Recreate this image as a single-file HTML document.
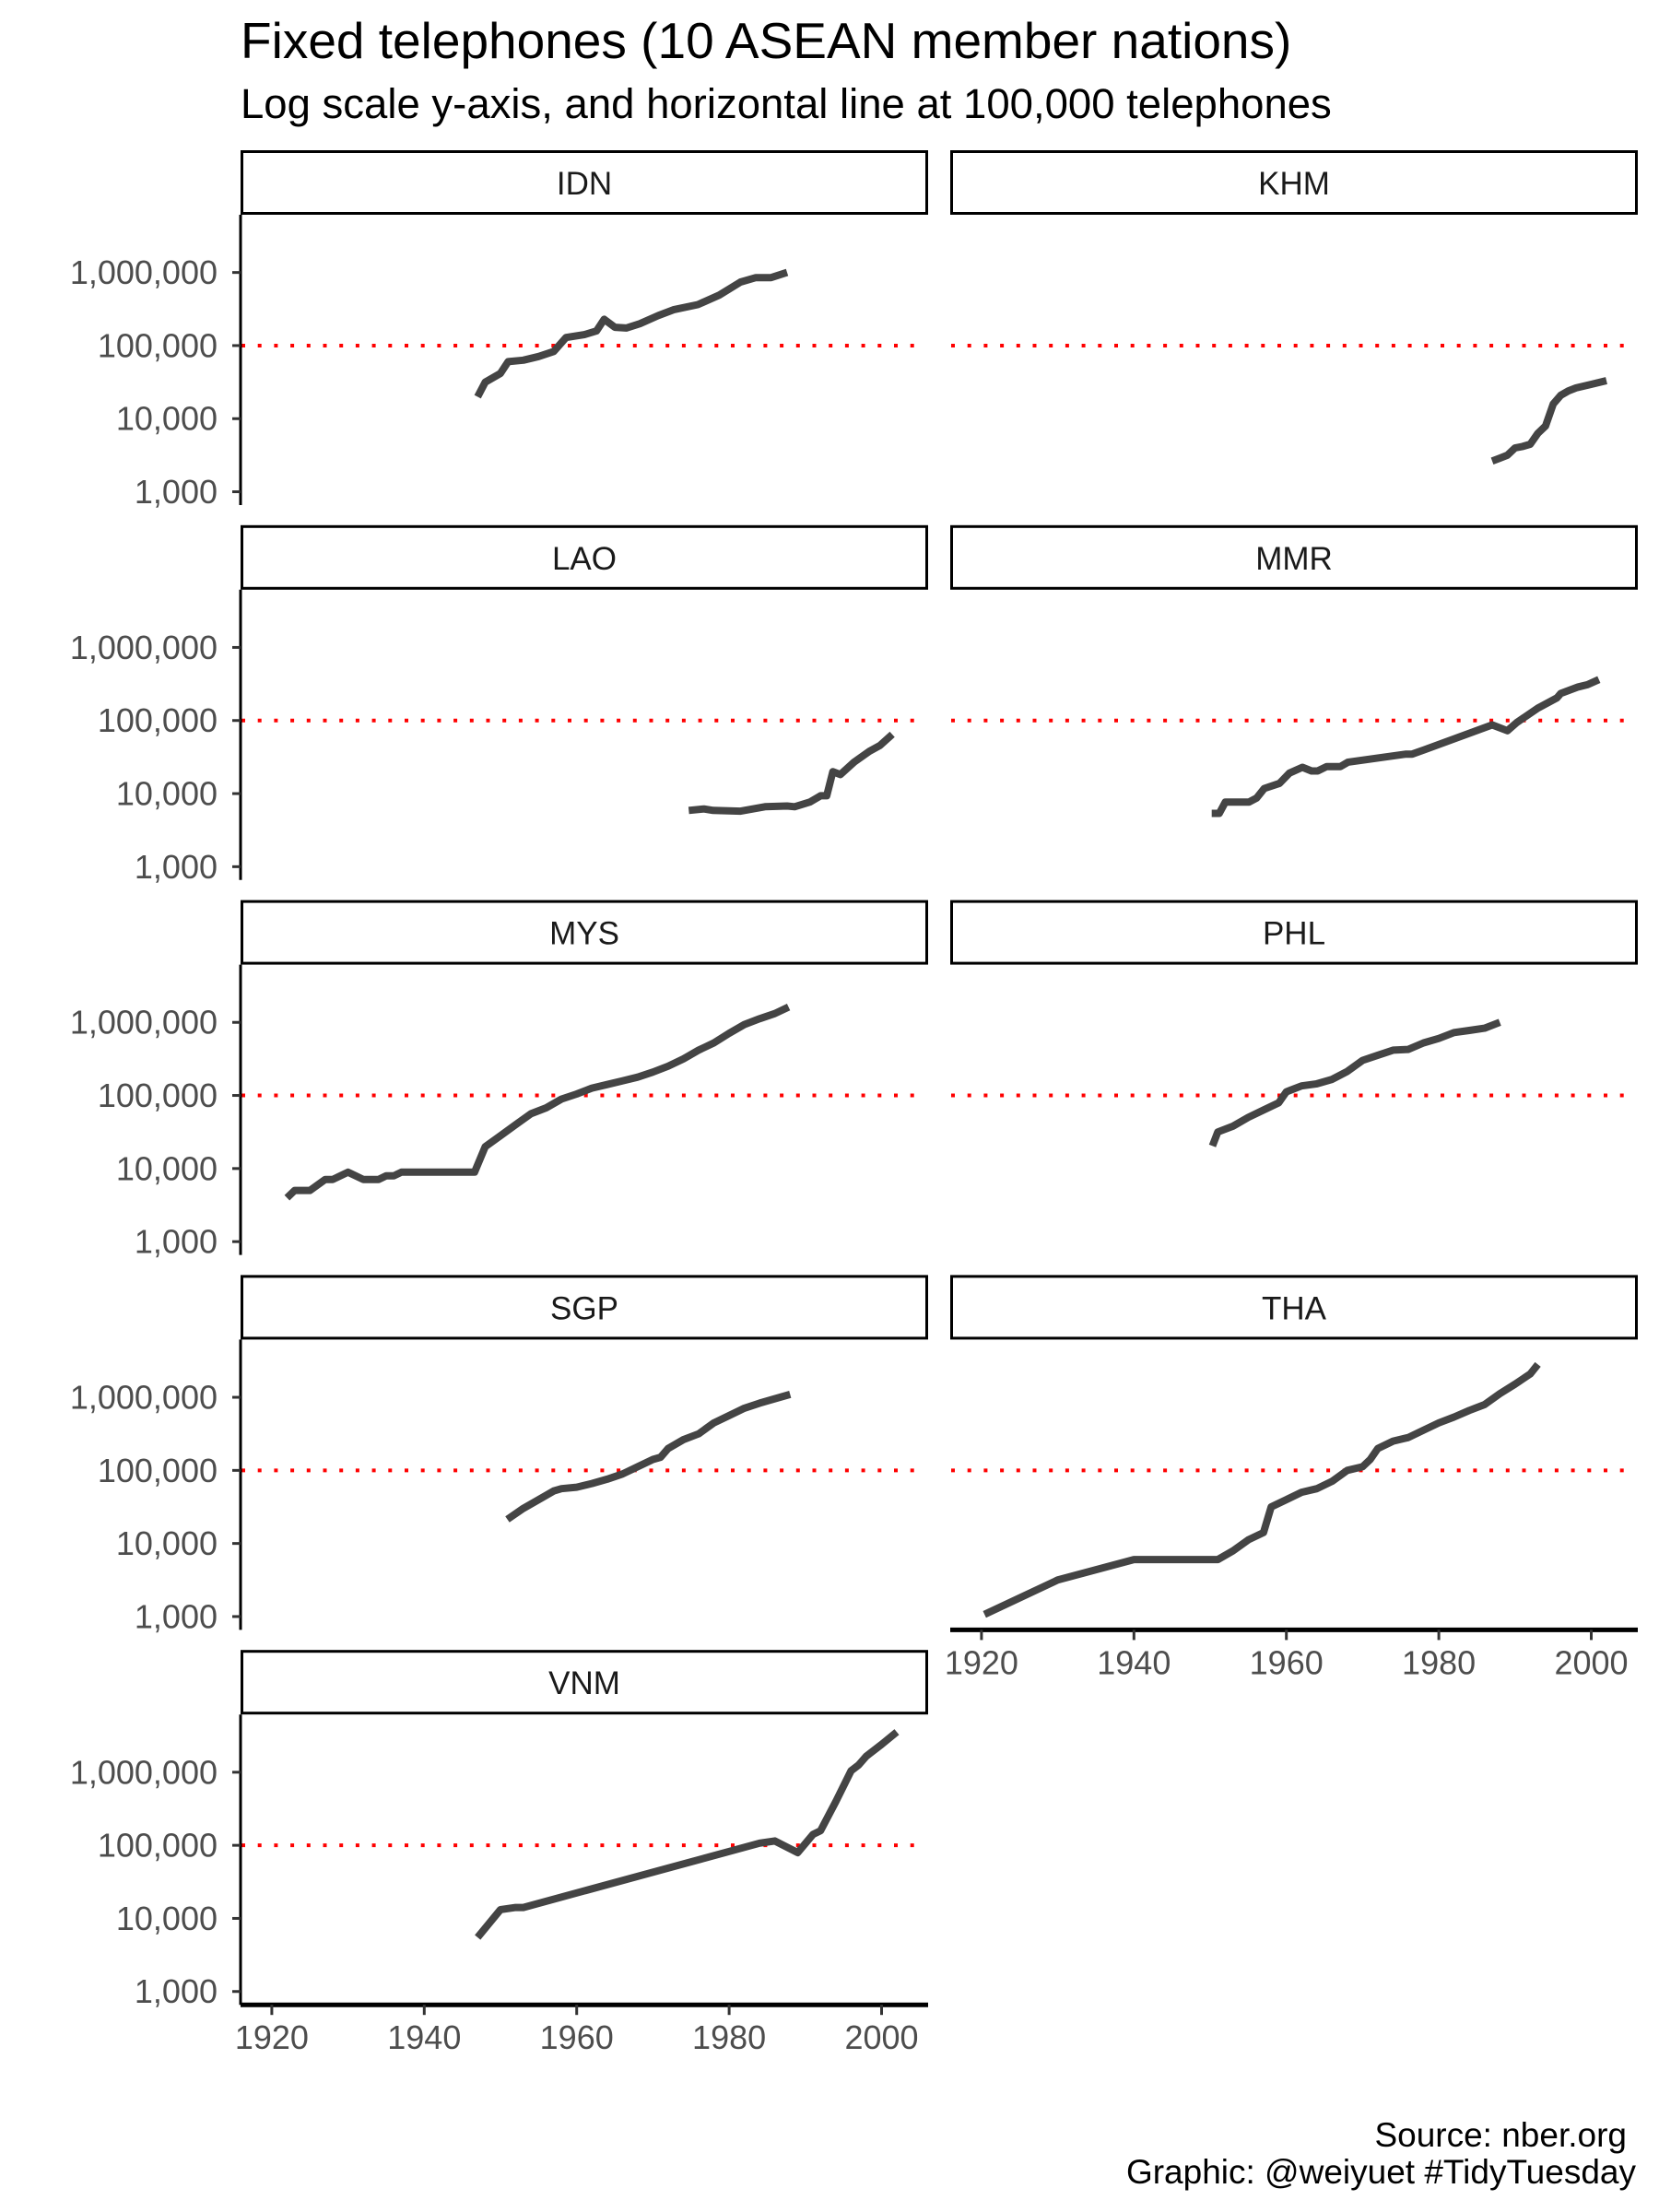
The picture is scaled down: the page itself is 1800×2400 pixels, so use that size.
<!DOCTYPE html>
<html><head><meta charset="utf-8"><style>
html,body{margin:0;padding:0;background:#fff;}
svg{display:block;font-family:"Liberation Sans",Arial,sans-serif;}
</style></head><body>
<svg id="chart" width="1800" height="2400" viewBox="0 0 1800 2400" xmlns="http://www.w3.org/2000/svg">
<text x="261" y="63" font-size="55" fill="#000">Fixed telephones (10 ASEAN member nations)</text>
<text x="261" y="128" font-size="45.5" fill="#000">Log scale y-axis, and horizontal line at 100,000 telephones</text>
<text x="1765" y="2329" font-size="37" text-anchor="end" fill="#000">Source: nber.org</text>
<text x="1775" y="2369" font-size="37" text-anchor="end" fill="#000">Graphic: @weiyuet #TidyTuesday</text>
<g id="panels"></g>
</svg>
<script>
// Data: [year, log10(telephones)]
const countries = ["IDN","KHM","LAO","MMR","MYS","PHL","SGP","THA","VNM"];
const IDN = [[1947,4.3],[1948,4.5],[1950,4.62],[1951,4.78],[1953,4.8],[1955,4.85],[1957,4.92],[1958.6,5.11],[1961,5.15],[1962.6,5.2],[1963.6,5.36],[1965,5.25],[1966.5,5.24],[1968.3,5.3],[1970.7,5.41],[1972.7,5.49],[1975.9,5.56],[1978.7,5.69],[1981.5,5.87],[1983.5,5.93],[1985.5,5.93],[1987.6,6.0]];
const KHM = [[1987,3.42],[1988,3.46],[1989,3.5],[1990,3.6],[1991,3.62],[1992,3.65],[1993,3.8],[1994,3.9],[1995,4.2],[1996,4.32],[1997,4.38],[1998,4.42],[2000,4.47],[2002,4.52]];
const LAO = [[1974.7,3.77],[1976.7,3.79],[1977.9,3.77],[1981.5,3.76],[1984.7,3.82],[1987.6,3.83],[1988.6,3.82],[1990.6,3.885],[1992,3.97],[1992.8,3.97],[1993.6,4.3],[1994.6,4.26],[1996.4,4.43],[1998.4,4.58],[1999.8,4.66],[2001.4,4.81]];
const MMR = [[1950.2,3.73],[1951.2,3.73],[1952,3.885],[1955.1,3.885],[1956.1,3.94],[1957.1,4.07],[1959.1,4.14],[1960.4,4.28],[1962.1,4.36],[1963.3,4.31],[1964.1,4.31],[1965.3,4.37],[1967.1,4.37],[1968.1,4.43],[1975.7,4.54],[1976.5,4.54],[1978.1,4.6],[1987,4.94],[1989,4.86],[1990.2,4.97],[1993,5.17],[1995.5,5.31],[1996,5.37],[1998.3,5.46],[1999.5,5.49],[2001,5.56]];
const MYS = [[1922,3.6],[1923,3.7],[1925,3.7],[1927,3.85],[1928,3.85],[1930,3.95],[1932,3.85],[1934,3.85],[1935,3.9],[1936,3.9],[1937,3.95],[1946.6,3.95],[1948,4.3],[1950,4.45],[1952,4.6],[1954,4.75],[1956,4.83],[1958,4.95],[1960,5.02],[1962,5.1],[1964,5.15],[1966,5.2],[1968,5.25],[1970,5.32],[1972,5.4],[1974,5.5],[1976,5.62],[1978,5.72],[1980,5.85],[1982,5.97],[1984,6.05],[1986,6.12],[1987.8,6.21]];
const PHL = [[1950.3,4.31],[1951,4.5],[1953,4.58],[1955,4.7],[1957,4.8],[1959,4.9],[1960,5.05],[1962,5.13],[1964,5.16],[1966,5.22],[1968,5.33],[1970,5.48],[1972,5.55],[1974,5.62],[1976,5.63],[1978,5.72],[1980,5.78],[1982,5.86],[1984,5.89],[1986,5.92],[1988,6.0]];
const SGP = [[1950.9,4.33],[1953,4.48],[1955,4.6],[1957,4.72],[1958,4.75],[1960,4.77],[1962,4.82],[1964,4.88],[1966,4.95],[1968,5.05],[1970,5.15],[1971,5.18],[1972,5.3],[1974,5.42],[1976,5.5],[1978,5.65],[1980,5.75],[1982,5.85],[1984,5.92],[1986,5.98],[1988,6.04]];
const THA = [[1920.4,3.03],[1930,3.5],[1940,3.78],[1951,3.78],[1953,3.9],[1955,4.05],[1957,4.15],[1958,4.5],[1960,4.6],[1962,4.7],[1964,4.75],[1966,4.85],[1968,5.0],[1970,5.05],[1971,5.15],[1972,5.3],[1974,5.4],[1976,5.45],[1978,5.55],[1980,5.65],[1982,5.73],[1984,5.82],[1986,5.9],[1988,6.05],[1990,6.18],[1992,6.32],[1993,6.45]];
const VNM = [[1947,3.74],[1950,4.12],[1952,4.15],[1953,4.15],[1984,5.03],[1986,5.06],[1989,4.9],[1991,5.15],[1992,5.2],[1994,5.6],[1996,6.02],[1997,6.1],[1998,6.22],[2000,6.38],[2002,6.55]];
const seriesList = [IDN,KHM,LAO,MMR,MYS,PHL,SGP,THA,VNM];
const yTickValues = [3,4,5,6];
const yTickLabels = ["1,000","10,000","100,000","1,000,000"];
const xTickValues = [1920,1940,1960,1980,2000];
const refLineLog = 5;

const NS="http://www.w3.org/2000/svg";
const root=document.getElementById('panels');
const colX=[261,1031], panelW=746, rowStep=406.8;
function mk(tag,attrs,parent){const e=document.createElementNS(NS,tag);for(const k in attrs)e.setAttribute(k,attrs[k]);parent.appendChild(e);return e;}
function xScale(px0,yr){return px0+(yr-1915.9)*8.27;}
function yScale(top,lg){return top+(6.79-lg)*79.3;}

countries.forEach((c,i)=>{
  const r=Math.floor(i/2), col=i%2, px0=colX[col];
  const stripTop=163+rowStep*r, top=stripTop+70, bottom=top+315;
  const g=mk('g',{},root);
  
  
  const strip=mk('rect',{x:px0+1.5,y:stripTop+1.5,width:panelW-3,height:67,fill:'#fff',stroke:'#000','stroke-width':3},g);
  
  
  const st=mk('text',{x:px0+panelW/2,y:stripTop+48,'font-size':35,'text-anchor':'middle',fill:'#1a1a1a'},g);
  st.textContent=c;
  
  
  const ry=yScale(top,refLineLog);
  const rl=mk('line',{x1:px0+1,x2:px0+panelW-8,y1:ry,y2:ry,stroke:'#ff0000','stroke-width':4,'stroke-dasharray':'4 13.7'},g);
  
  
  if(col===0){
    const ya=mk('line',{x1:px0,x2:px0,y1:top,y2:bottom,stroke:'#000','stroke-width':3},g);
    
    
    yTickValues.forEach((v,k)=>{
      const y=yScale(top,v);
      const t=mk('line',{x1:px0-9,x2:px0,y1:y,y2:y,stroke:'#333','stroke-width':3},g);
      
      
      const tl=mk('text',{x:px0-25,y:y+12.5,'font-size':36,'text-anchor':'end',fill:'#4d4d4d'},g);
      tl.textContent=yTickLabels[k];
      
      
    });
  }
  if(c==='THA'||c==='VNM'){
    const xa=mk('line',{x1:px0,x2:px0+panelW,y1:bottom,y2:bottom,stroke:'#000','stroke-width':5},g);
    
    
    xTickValues.forEach(v=>{
      const x=xScale(px0,v);
      const t=mk('line',{x1:x,x2:x,y1:bottom,y2:bottom+11,stroke:'#333','stroke-width':3},g);
      
      
      const tl=mk('text',{x:x,y:bottom+48,'font-size':36,'text-anchor':'middle',fill:'#4d4d4d'},g);
      tl.textContent=String(v);
      
      
    });
  }
  const d=seriesList[i].map((p,k)=>(k?'L':'M')+xScale(px0,p[0]).toFixed(1)+','+yScale(top,p[1]).toFixed(1)).join(' ');
  const pl=mk('path',{d:d,fill:'none',stroke:'#444','stroke-width':8,'stroke-linejoin':'round'},g);
  
  
});
</script>
</body></html>
